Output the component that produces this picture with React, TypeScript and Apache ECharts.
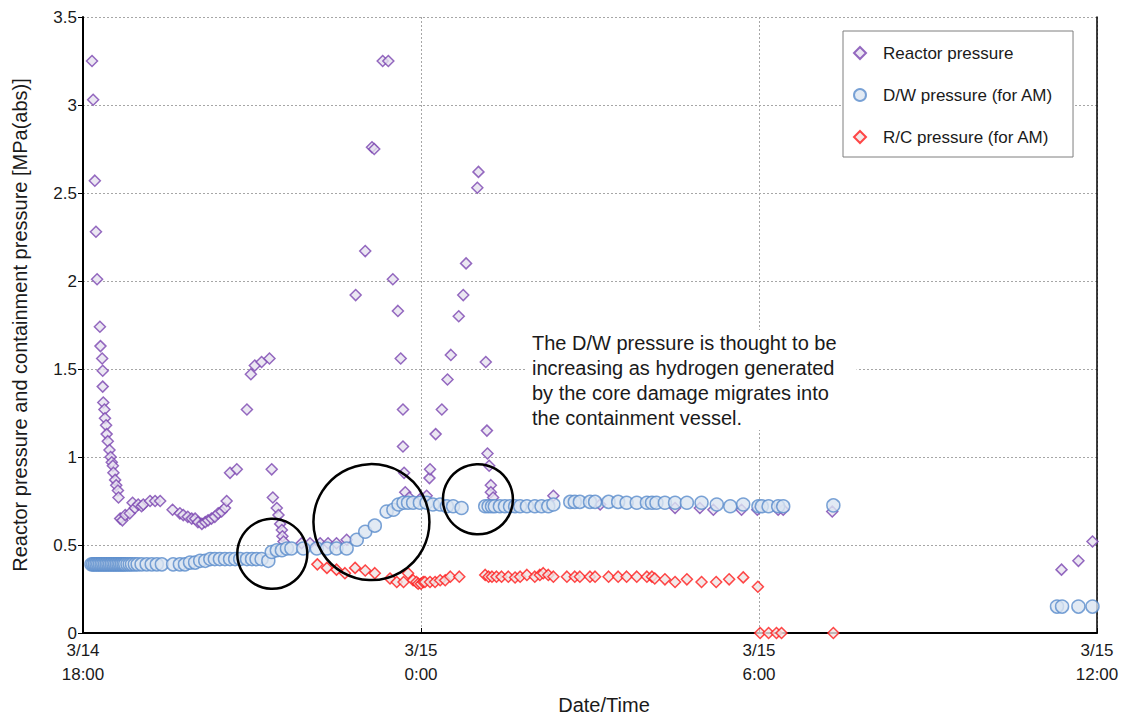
import React, { useEffect, useRef } from "react";
import * as echarts from "echarts";

// x values are hours elapsed since 3/14 18:00
const xTickLabels = ["3/14\n18:00", "3/15\n0:00", "3/15\n6:00", "3/15\n12:00"];
const seriesNames = ["Reactor pressure", "D/W pressure (for AM)", "R/C pressure (for AM)"];
const yAxisTitle = "Reactor pressure and containment pressure [MPa(abs)]";
const xAxisTitle = "Date/Time";
const noteText = [
  "The D/W pressure is thought to be",
  "increasing as hydrogen generated",
  "by the core damage migrates into",
  "the containment vessel.",
];

const reactorHours = [
  0.16, 0.18, 0.21, 0.23, 0.25, 0.3, 0.31, 0.34, 0.35, 0.35, 0.36, 0.38, 0.39, 0.41, 0.42, 0.44, 0.47, 0.49,
  0.51, 0.53, 0.54, 0.57, 0.59, 0.62, 0.63, 0.66, 0.7, 0.75, 0.83, 0.88, 0.92, 0.98, 1.04, 1.07, 1.19, 1.28,
  1.37, 1.59, 1.72, 1.78, 1.86, 1.93, 1.99, 2.04, 2.11, 2.17, 2.22, 2.28, 2.34, 2.4, 2.46, 2.52, 2.55, 2.61,
  2.73, 2.91, 2.98, 3.05, 3.17, 3.31, 3.35, 3.37, 3.44, 3.47, 3.5, 3.53, 3.54, 3.56, 3.88, 4.03, 4.21, 4.35,
  4.5, 4.68, 4.84, 5.01, 5.13, 5.17, 5.32, 5.42, 5.5, 5.59, 5.64, 5.68, 5.68, 5.7, 5.72, 5.79, 5.98, 6.1,
  6.15, 6.16, 6.26, 6.37, 6.47, 6.53, 6.67, 6.75, 6.8, 7.0, 7.02, 7.15, 7.17, 7.18, 7.21, 7.24, 7.24, 7.28,
  7.6, 8.35, 9.18, 10.51, 10.95, 11.19, 11.69, 11.97, 12.34, 12.43, 13.3, 17.37, 17.67, 17.92,
];
const reactorPressure = [
  3.25, 3.03, 2.57, 2.28, 2.01, 1.74, 1.63, 1.56, 1.49, 1.4, 1.31, 1.27, 1.22, 1.18, 1.13, 1.09, 1.04, 1.0,
  0.97, 0.95, 0.91, 0.87, 0.84, 0.81, 0.77, 0.65, 0.64, 0.67, 0.68, 0.74, 0.71, 0.73, 0.72, 0.73, 0.75, 0.75,
  0.75, 0.7, 0.68, 0.67, 0.66, 0.65, 0.65, 0.63, 0.62, 0.63, 0.64, 0.65, 0.66, 0.68, 0.69, 0.71, 0.75, 0.91,
  0.93, 1.27, 1.47, 1.52, 1.54, 1.56, 0.93, 0.77, 0.71, 0.67, 0.62, 0.585, 0.55, 0.52, 0.51, 0.51, 0.51, 0.51,
  0.51, 0.53, 1.92, 2.17, 2.76, 2.75, 3.25, 3.25, 2.01, 1.83, 1.56, 1.27, 1.06, 0.91, 0.8, 0.77, 0.76, 0.78,
  0.88, 0.93, 1.13, 1.27, 1.44, 1.58, 1.8, 1.92, 2.1, 2.53, 2.62, 1.54, 1.15, 1.02, 0.95, 0.84, 0.8, 0.77,
  0.72, 0.78, 0.73, 0.71, 0.71, 0.7, 0.7, 0.7, 0.7, 0.7, 0.69, 0.36, 0.41, 0.52,
];

const dwHours = [
  0.15, 0.18, 0.21, 0.24, 0.27, 0.3, 0.33, 0.36, 0.39, 0.42, 0.45, 0.48, 0.51, 0.54, 0.57, 0.6, 0.63, 0.66,
  0.69, 0.72, 0.75, 0.79, 0.83, 0.87, 0.92, 0.97, 1.04, 1.13, 1.22, 1.31, 1.4, 1.6, 1.72, 1.81, 1.9, 1.99,
  2.08, 2.17, 2.26, 2.34, 2.43, 2.52, 2.61, 2.7, 2.79, 2.91, 3.0, 3.08, 3.17, 3.29, 3.35, 3.44, 3.53, 3.62,
  3.7, 3.91, 4.15, 4.33, 4.5, 4.68, 4.86, 5.01, 5.18, 5.39, 5.51, 5.6, 5.69, 5.77, 5.86, 5.98, 6.1, 6.21,
  6.34, 6.46, 6.57, 6.72, 7.14, 7.2, 7.26, 7.31, 7.4, 7.49, 7.58, 7.67, 7.76, 7.88, 8.02, 8.14, 8.26, 8.35,
  8.65, 8.73, 8.82, 9.0, 9.09, 9.33, 9.5, 9.65, 9.83, 10.01, 10.1, 10.18, 10.33, 10.51, 10.72, 10.98, 11.25,
  11.49, 11.72, 11.99, 12.05, 12.17, 12.34, 12.43, 13.32, 17.29, 17.38, 17.67, 17.92,
];
const dwPressure = [
  0.39, 0.39, 0.39, 0.39, 0.39, 0.39, 0.39, 0.39, 0.39, 0.39, 0.39, 0.39, 0.39, 0.39, 0.39, 0.39, 0.39, 0.39,
  0.39, 0.39, 0.39, 0.39, 0.39, 0.39, 0.39, 0.39, 0.39, 0.39, 0.39, 0.39, 0.39, 0.39, 0.39, 0.39, 0.4, 0.4,
  0.41, 0.41, 0.42, 0.42, 0.42, 0.42, 0.42, 0.42, 0.42, 0.42, 0.42, 0.42, 0.42, 0.41, 0.46, 0.47, 0.47, 0.48,
  0.48, 0.48, 0.48, 0.48, 0.48, 0.48, 0.53, 0.575, 0.61, 0.69, 0.7, 0.73, 0.74, 0.74, 0.74, 0.74, 0.74, 0.73,
  0.73, 0.72, 0.72, 0.71, 0.72, 0.72, 0.72, 0.72, 0.72, 0.72, 0.72, 0.72, 0.72, 0.72, 0.72, 0.72, 0.72, 0.73,
  0.745, 0.745, 0.745, 0.745, 0.745, 0.745, 0.745, 0.74, 0.74, 0.74, 0.74, 0.74, 0.74, 0.74, 0.74, 0.74, 0.73,
  0.72, 0.73, 0.72, 0.72, 0.72, 0.72, 0.72, 0.725, 0.15, 0.15, 0.15, 0.15,
];

const rcHours = [
  4.16, 4.33, 4.5, 4.65, 4.83, 5.01, 5.18, 5.45, 5.57, 5.69, 5.77, 5.86, 5.92, 5.95, 6.0, 6.04, 6.07, 6.16,
  6.25, 6.34, 6.43, 6.52, 6.68, 7.14, 7.2, 7.26, 7.34, 7.43, 7.55, 7.67, 7.76, 7.88, 8.02, 8.11, 8.17, 8.26,
  8.35, 8.59, 8.73, 8.82, 9.0, 9.09, 9.33, 9.5, 9.65, 9.83, 10.01, 10.1, 10.15, 10.33, 10.51, 10.72, 10.98,
  11.24, 11.47, 11.72, 11.98, 12.02, 12.17, 12.31, 12.4, 13.32,
];
const rcPressure = [
  0.39, 0.37, 0.36, 0.34, 0.37, 0.355, 0.34, 0.31, 0.29, 0.29, 0.34, 0.3, 0.29, 0.28, 0.28, 0.29, 0.29, 0.29,
  0.29, 0.3, 0.3, 0.32, 0.32, 0.33, 0.32, 0.32, 0.32, 0.32, 0.32, 0.315, 0.32, 0.33, 0.32, 0.33, 0.34, 0.33,
  0.32, 0.32, 0.32, 0.32, 0.32, 0.32, 0.32, 0.32, 0.32, 0.32, 0.32, 0.32, 0.31, 0.305, 0.29, 0.305, 0.29,
  0.29, 0.305, 0.316, 0.263, 0, 0, 0, 0, 0,
];

// annotation rings (centre in data units, radius in px)
const ringHours = [3.36, 5.12, 7.01];
const ringPressure = [0.45, 0.63, 0.76];
const ringRadius = [35, 58, 35];

const FONT = "'Liberation Sans', Arial, sans-serif";

export default function App() {
  const ref = useRef<HTMLDivElement>(null);
  useEffect(() => {
    const chart = echarts.init(ref.current!, null, { renderer: "svg" });
    const pairs = (xs: number[], ys: number[]) => xs.map((x, i) => [x, ys[i]]);
    chart.setOption({
      animation: false,
      backgroundColor: "#fff",
      textStyle: { fontFamily: FONT },
      grid: { left: 83, right: 24, top: 17, bottom: 85, outerBoundsMode: "none" },
      legend: {
        left: 843,
        top: 31,
        orient: "vertical",
        backgroundColor: "#fff",
        borderColor: "#7f7f7f",
        borderWidth: 1,
        borderRadius: 0,
        padding: [12, 20, 10, 10],
        itemGap: 22,
        itemWidth: 12,
        itemHeight: 12,
        textStyle: { fontSize: 17, color: "#1a1a1a", fontFamily: FONT, lineHeight: 20, padding: [0, 0, 0, 12] },
        data: seriesNames,
      },
      xAxis: {
        type: "value",
        min: 0,
        max: 18,
        interval: 6,
        name: xAxisTitle,
        nameLocation: "middle",
        nameGap: 62,
        nameTextStyle: { fontSize: 20, color: "#1a1a1a", fontFamily: FONT, padding: [0, 0, 0, 28] },
        axisLine: { show: true, onZero: false, lineStyle: { color: "#000", width: 2 } },
        axisTick: { show: true, inside: true, length: 5, lineStyle: { color: "#000" } },
        axisLabel: {
          margin: 5,
          fontSize: 17,
          lineHeight: 24,
          color: "#1a1a1a",
          fontFamily: FONT,
          formatter: (v: number) => xTickLabels[Math.round(v / 6)] ?? "",
        },
        splitLine: { show: true, lineStyle: { color: "#a6a6a6", type: [2, 2], width: 1 } },
      },
      yAxis: [
        {
          type: "value",
          min: 0,
          max: 3.5,
          interval: 0.5,
          name: yAxisTitle,
          nameLocation: "middle",
          nameGap: 53,
          nameTextStyle: { fontSize: 20, color: "#1a1a1a", fontFamily: FONT },
          axisLine: { show: true, lineStyle: { color: "#000", width: 2 } },
          axisTick: { show: true, length: 5, lineStyle: { color: "#000" } },
          axisLabel: { margin: 6, fontSize: 17, color: "#1a1a1a", fontFamily: FONT },
          splitLine: { show: true, lineStyle: { color: "#a6a6a6", type: [2, 2], width: 1 } },
        },
        {
          type: "value",
          position: "right",
          min: 0,
          max: 3.5,
          interval: 0.5,
          axisLine: { show: true, lineStyle: { color: "#000", width: 1.5 } },
          axisTick: { show: false },
          axisLabel: { show: false },
          splitLine: { show: false },
        },
      ],
      series: [
        {
          name: seriesNames[0],
          type: "scatter",
          symbol: "diamond",
          symbolSize: 11,
          itemStyle: { color: "#e6e1ef", borderColor: "#7a45b0", borderWidth: 1.5 },
          data: pairs(reactorHours, reactorPressure),
          z: 2,
        },
        {
          name: seriesNames[1],
          type: "scatter",
          symbol: "circle",
          symbolSize: 13,
          itemStyle: { color: "#dbe5f1", borderColor: "#5a8ccc", borderWidth: 1.5 },
          data: pairs(dwHours, dwPressure),
          z: 3,
        },
        {
          name: seriesNames[2],
          type: "scatter",
          symbol: "diamond",
          symbolSize: 11,
          itemStyle: { color: "#efe3e3", borderColor: "#ff1a1a", borderWidth: 1.5 },
          data: pairs(rcHours, rcPressure),
          z: 4,
        },
      ],
    });

    const rings = ringHours.map((h, i) => {
      const p = chart.convertToPixel({ gridIndex: 0 }, [h, ringPressure[i]]) as number[];
      return {
        type: "circle",
        shape: { cx: p[0], cy: p[1], r: ringRadius[i] },
        style: { fill: "none", stroke: "#000", lineWidth: 2.5 },
        z: 20,
      };
    });
    chart.setOption({
      graphic: [
        ...rings,
        {
          type: "text",
          x: 527,
          y: 330,
          z: 15,
          style: {
            text: noteText.join("\n"),
            fontSize: 20,
            fontFamily: FONT,
            lineHeight: 25,
            fill: "#1a1a1a",
            backgroundColor: "#fff",
            padding: [0, 20, 0, 5],
          },
        },
      ],
    });
    return () => chart.dispose();
  }, []);
  return <div ref={ref} style={{ position: "absolute", left: 0, top: 0, width: 1121, height: 718 }} />;
}
